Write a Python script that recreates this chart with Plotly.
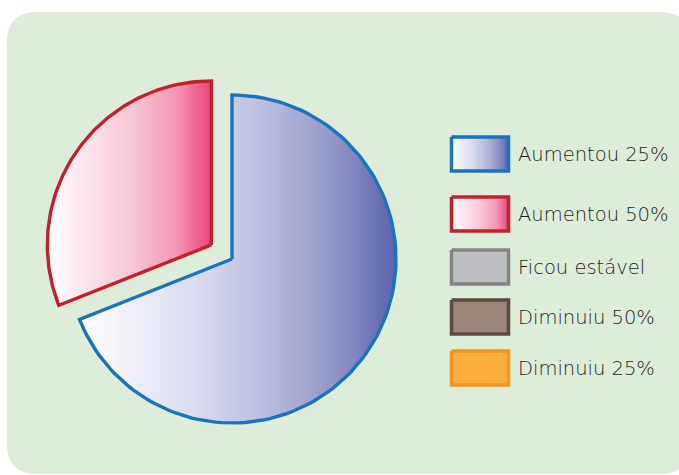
import numpy as np
import plotly.graph_objects as go

# data
labels = ["Aumentou 25%", "Aumentou 50%", "Ficou estável", "Diminuiu 50%", "Diminuiu 25%"]
values = [69, 31, 0, 0, 0]
pulls = [0, 25, 0, 0, 0]

# style per category
line_colors = ["#1a73bb", "#c3202e", "#848484", "#5b4a42", "#f7941d"]
fill_scales = [
    [[0, "#ffffff"], [0.35, "#dcdef0"], [0.62, "#b4b8dc"], [0.82, "#8d92c6"], [1, "#5a63ac"]],
    [[0, "#ffffff"], [0.5, "#f8c8d6"], [0.78, "#f399b5"], [1, "#e9447c"]],
    [[0, "#bdbec2"], [1, "#bdbec2"]],
    [[0, "#9b8578"], [1, "#9b8578"]],
    [[0, "#fbb040"], [1, "#fbb040"]],
]

W, H = 679, 475
CX, CY, R = 232, 259, 164
BG = "#deecda"

fig = go.Figure()

# pie slices, clockwise from 12 o'clock
total = sum(values)
start = 0.0
for lab, v, p, lc, fs in zip(labels, values, pulls, line_colors, fill_scales):
    if v <= 0:
        continue
    span = 360.0 * v / total
    th = np.radians(np.linspace(start, start + span, 120))
    mid = np.radians(start + span / 2)
    cx = CX + p * np.sin(mid)
    cy = CY - p * np.cos(mid)
    xs = np.concatenate([[cx], cx + R * np.sin(th), [cx]])
    ys = np.concatenate([[cy], cy - R * np.cos(th), [cy]])
    fig.add_trace(go.Scatter(
        x=xs, y=ys, mode="lines", fill="toself",
        fillgradient=dict(type="horizontal", colorscale=fs),
        line=dict(color=lc, width=3.4), name=lab, hoverinfo="name",
    ))
    start += span

# legend swatches
box_x0, box_x1 = 451.5, 508.5
box_h = 34
row_y = [154, 214, 267, 317, 368]
for lab, lc, fs, yc in zip(labels, line_colors, fill_scales, row_y):
    fig.add_trace(go.Scatter(
        x=[box_x0, box_x1, box_x1, box_x0, box_x0],
        y=[yc - box_h / 2, yc - box_h / 2, yc + box_h / 2, yc + box_h / 2, yc - box_h / 2],
        mode="lines", fill="toself",
        fillgradient=dict(type="horizontal", colorscale=fs),
        line=dict(color=lc, width=3.5), hoverinfo="skip",
    ))
    fig.add_annotation(
        x=516, y=yc, text=lab, showarrow=False, xanchor="left", yanchor="middle",
        font=dict(family="DejaVu Sans", size=19.5, weight=200, color="#1e1e1e"),
    )

# rounded green panel
x0, y0, x1, y1, rr = 7, 12, 690, 474, 30
path = (f"M {x0+rr},{y0} L {x1-rr},{y0} Q {x1},{y0} {x1},{y0+rr} "
        f"L {x1},{y1-rr} Q {x1},{y1} {x1-rr},{y1} L {x0+rr},{y1} "
        f"Q {x0},{y1} {x0},{y1-rr} L {x0},{y0+rr} Q {x0},{y0} {x0+rr},{y0} Z")
fig.add_shape(type="path", path=path, fillcolor=BG, line_width=0, layer="below")

fig.update_layout(
    width=W, height=H,
    margin=dict(l=0, r=0, t=0, b=0),
    paper_bgcolor="white", plot_bgcolor="white",
    showlegend=False,
    xaxis=dict(range=[0, W], visible=False, fixedrange=True),
    yaxis=dict(range=[H, 0], visible=False, fixedrange=True),
)

# drop the default page margin so the figure sits at the window corner
fig.write_html(
    "out.html",
    config={"displayModeBar": False},
    post_script="document.body.style.margin='0';document.body.style.overflow='hidden';",
)
